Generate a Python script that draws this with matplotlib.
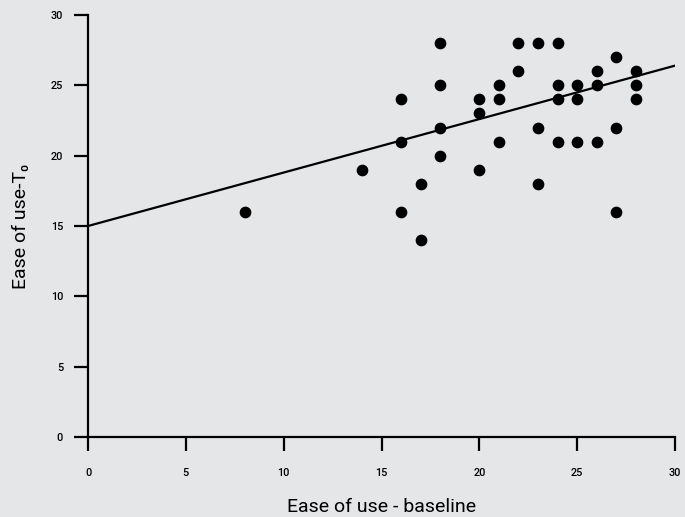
import numpy as np
import matplotlib.pyplot as plt

# data
baseline = [8, 14, 16, 16, 16, 17, 17, 18, 18, 18, 18, 20, 20, 20, 21, 21, 21,
            22, 22, 23, 23, 23, 24, 24, 24, 24, 25, 25, 25, 26, 26, 26,
            27, 27, 27, 28, 28, 28]
t0 = [16, 19, 24, 21, 16, 18, 14, 28, 25, 22, 20, 24, 23, 19, 25, 24, 21,
      26, 28, 28, 22, 18, 28, 25, 24, 21, 25, 24, 21, 26, 25, 21,
      27, 22, 16, 26, 25, 24]
line_x = [0, 30]
line_y = [15, 26.4]
ticks = [0, 5, 10, 15, 20, 25, 30]

bg = '#e5e6e8'
plt.rcParams['font.family'] = ['Roboto', 'DejaVu Sans']


def main():
    fig = plt.figure(figsize=(6.85, 5.17), dpi=100, facecolor=bg)
    ax = fig.add_axes([88 / 685, 1 - 437 / 517, 587 / 685, 422 / 517])
    ax.set_facecolor(bg)

    ax.scatter(baseline, t0, s=55, color='black', zorder=3, clip_on=False)
    ax.plot(line_x, line_y, color='black', lw=1.6, zorder=2)

    ax.set_xlim(0, 30)
    ax.set_ylim(0, 30)
    ax.set_xticks(ticks)
    ax.set_yticks(ticks)
    for s in ['top', 'right']:
        ax.spines[s].set_visible(False)
    for s in ['left', 'bottom']:
        ax.spines[s].set_linewidth(1.6)
    ax.tick_params(axis='x', length=10, width=1.6, pad=12, labelsize=7.8)
    ax.tick_params(axis='y', length=10, width=1.6, pad=8, labelsize=7.8)
    for lab in ax.get_xticklabels() + ax.get_yticklabels():
        lab.set_fontweight('medium')

    ax.set_xlabel('Ease of use - baseline', fontsize=14, labelpad=15)
    ax.set_ylabel('Ease of use-T₀', fontsize=14, labelpad=15)

    fig.savefig('out.png', dpi=100, facecolor=bg)


if __name__ == '__main__':
    main()
